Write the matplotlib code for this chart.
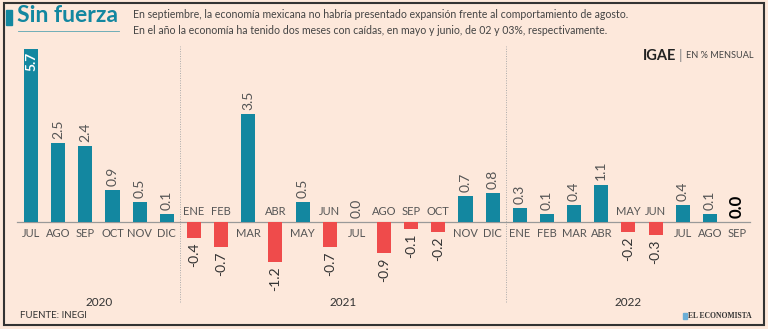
import matplotlib
matplotlib.use("Agg")
import matplotlib.pyplot as plt
import numpy as np
from matplotlib.patches import Rectangle
from matplotlib.lines import Line2D

# data
months = ["JUL", "AGO", "SEP", "OCT", "NOV", "DIC",
          "ENE", "FEB", "MAR", "ABR", "MAY", "JUN", "JUL", "AGO", "SEP", "OCT", "NOV", "DIC",
          "ENE", "FEB", "MAR", "ABR", "MAY", "JUN", "JUL", "AGO", "SEP"]
values = [5.7, 2.5, 2.4, 0.9, 0.5, 0.1,
          -0.4, -0.7, 3.5, -1.2, 0.5, -0.7, 0.0, -0.9, -0.1, -0.2, 0.7, 0.8,
          0.3, 0.1, 0.4, 1.1, -0.2, -0.3, 0.4, 0.1, 0.0]
years = ["2020", "2021", "2022"]
year_start = [0, 6, 18]
year_end = [5, 17, 26]

bg = "#fde8db"
teal = "#1387a0"
red = "#ef4b4b"
grey = "#555555"
plt.rcParams["font.family"] = ["Lato", "DejaVu Sans"]

fig = plt.figure(figsize=(7.68, 3.29), dpi=100, facecolor=bg)
ax = fig.add_axes([0, 0, 1, 1])
ax.set_facecolor(bg)
ax.set_xlim(-1.142, 27.14)
ax.set_ylim(-3.637, 7.515)
ax.axis("off")

x = np.arange(len(values))
vals = np.array(values)
# the original graphic draws every non-zero bar a little longer than its scale value
shown = vals + 0.16 * np.sign(vals)
colors = [teal if v >= 0 else red for v in values]
ax.bar(x, shown, width=0.52, color=colors, zorder=3)
ax.axhline(0, xmin=0.022, xmax=0.977, color="#999999", lw=0.9, zorder=2)

for i, (m, v, h) in enumerate(zip(months, values, shown)):
    if v >= 0:
        ax.annotate(m, (i, 0), xytext=(0, -8.5), textcoords="offset points",
                    ha="center", va="center", fontsize=8, color=grey)
    else:
        ax.annotate(m, (i, 0), xytext=(0, 7), textcoords="offset points",
                    ha="center", va="center", fontsize=8, color=grey)
    lab = f"{v:.1f}"
    if i == 0:
        ax.annotate(lab, (i, h), xytext=(0, -2), textcoords="offset points",
                    ha="center", va="top", rotation=90, fontsize=10,
                    color="white", fontweight="bold")
    elif i == len(values) - 1:
        ax.annotate(lab, (i, h), xytext=(0, 3), textcoords="offset points",
                    ha="center", va="bottom", rotation=90, fontsize=12,
                    color="black", fontweight="bold")
    elif v >= 0:
        ax.annotate(lab, (i, h), xytext=(0, 3), textcoords="offset points",
                    ha="center", va="bottom", rotation=90, fontsize=10, color=grey)
    else:
        ax.annotate(lab, (i, h), xytext=(0, -3), textcoords="offset points",
                    ha="center", va="top", rotation=90, fontsize=10, color="#333333")

# year dividers and labels
for s in year_start[1:]:
    ax.axvline(s - 0.5, ymin=1 - 302 / 329, ymax=1 - 46 / 329, color="#aaaaaa",
               lw=0.7, ls=(0, (1, 1.5)), zorder=1)
for y, s, e in zip(years, year_start, year_end):
    ax.text((s + e) / 2, 1 - 302 / 329, y, transform=ax.get_xaxis_transform(),
            ha="center", va="center", fontsize=8.5, color="#333333")

# header
fig.add_artist(Rectangle((6 / 768, 1 - 25 / 329), 6 / 768, 15 / 329,
                         transform=fig.transFigure, color=teal))
fig.text(17 / 768, 1 - 16 / 329, "Sin fuerza", fontsize=16.5, fontweight="bold",
         color=teal, va="center", ha="left")
fig.add_artist(Line2D([18 / 768, 119 / 768], [1 - 31 / 329] * 2,
                      transform=fig.transFigure, color=teal, lw=0.6, alpha=0.7))
fig.text(133 / 768, 1 - 15 / 329,
         "En septiembre, la economía mexicana no habría presentado expansión frente al comportamiento de agosto.",
         fontsize=7.6, color="#444444", va="center", ha="left")
fig.text(133 / 768, 1 - 30 / 329,
         "En el año la economía ha tenido dos meses con caídas, en mayo y junio, de 02 y 03%, respectivamente.",
         fontsize=7.6, color="#444444", va="center", ha="left")
fig.text(676 / 768, 1 - 56 / 329, "IGAE", fontsize=10.5, fontweight="bold",
         color="#222222", va="center", ha="right")
fig.text(680.5 / 768, 1 - 56 / 329, "|", fontsize=10, color="#888888", va="center", ha="center")
fig.text(686 / 768, 1 - 56 / 329, "EN % MENSUAL", fontsize=6.6, color="#444444",
         va="center", ha="left")

# footer
fig.text(20 / 768, 1 - 316 / 329, "FUENTE: INEGI", fontsize=7, color="#333333",
         va="center", ha="left")
fig.text(752 / 768, 1 - 316 / 329, "EL ECONOMISTA", fontsize=5.5, color="#333333",
         va="center", ha="right", family=["Liberation Serif", "DejaVu Serif"],
         fontweight="bold")
fig.add_artist(Rectangle((683 / 768, 1 - 319 / 329), 4 / 768, 6 / 329,
                         transform=fig.transFigure, color="#6aaed6"))

# frame
fig.add_artist(Rectangle((4 / 768, 4 / 329), 760 / 768, 322 / 329,
                         transform=fig.transFigure, fill=False, ec="#333333", lw=1.5))

fig.savefig("out.png", dpi=100, facecolor=bg)
